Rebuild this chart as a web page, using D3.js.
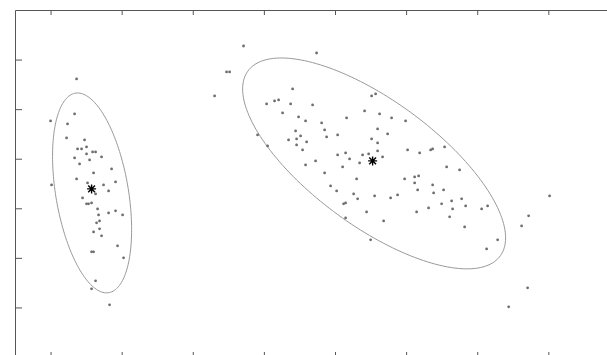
<!DOCTYPE html>
<meta charset="utf-8">
<script src="https://d3js.org/d3.v7.min.js"></script>
<style>
  body { margin: 0; background: #fff; }
</style>
<div id="my_dataviz"></div>
<script>

// cluster 1 (left) points
var c1x = [0.366,0.338,0.000,0.239,0.225,0.478,0.380,0.436,0.506,0.506,0.591,0.633,0.338,0.549,0.717,0.408,
           0.858,0.605,0.366,0.914,0.014,0.520,0.745,0.816,0.633,0.450,0.506,0.534,0.577,0.661,0.914,0.816,
           1.013,0.675,0.689,0.647,0.689,0.605,0.717,0.942,0.577,0.605,1.027,0.633,0.577,0.830];
var c1y = [5.609,4.903,4.762,4.702,4.419,4.379,4.198,4.198,4.238,4.097,4.137,4.137,4.016,3.976,4.036,3.895,
           3.794,3.714,3.593,3.532,3.472,3.512,3.472,3.351,3.290,3.210,3.089,3.089,3.109,2.988,2.948,2.907,
           2.867,2.867,2.746,2.706,2.585,2.524,2.444,2.242,2.121,2.121,2.000,1.536,1.375,1.052];

// cluster 2 (right) points
var c2x = [2.714,3.741,2.475,2.518,2.307,3.404,3.038,3.150,3.207,3.376,3.685,3.263,4.515,4.571,4.416,4.627,
           3.488,3.586,4.163,3.812,3.854,3.446,4.599,2.911,3.516,3.460,3.347,3.882,4.037,3.601,3.460,4.515,
           4.599,3.052,3.544,4.599,4.037,4.149,4.205,4.388,4.473,4.669,3.727,4.346,3.586,4.107,3.854,4.796,
           4.993,4.740,5.021,5.190,5.345,5.373,5.541,5.570,5.752,4.304,3.938,4.023,4.262,4.318,4.557,4.121,
           4.149,4.444,4.149,4.684,4.501,4.979,5.120,5.176,5.120,5.373,5.162,5.387,5.527,4.782,4.880,5.640,
           5.781,5.499,5.837,5.316,5.654,6.062,6.146,5.148,5.612,5.823,7.018,6.723,6.624,6.287,6.132,6.709,6.442];
var c2y = [6.274,6.133,5.750,5.750,5.266,5.407,5.105,5.165,5.185,5.105,5.085,4.923,5.266,5.306,4.964,4.903,
           4.843,4.762,4.823,4.722,4.581,4.560,4.601,4.480,4.460,4.399,4.379,4.440,4.480,4.339,4.278,4.399,
           4.319,4.258,4.177,4.157,4.077,4.117,3.996,4.077,4.097,4.036,3.956,3.915,3.875,3.835,3.714,4.823,
           4.762,4.500,4.177,4.117,4.177,4.198,4.238,3.835,3.774,3.593,3.452,3.351,3.290,3.190,3.250,3.089,
           3.109,2.927,2.806,2.746,2.363,3.593,3.633,3.653,3.512,3.472,3.371,3.310,3.371,3.210,3.270,3.149,
           3.190,3.089,3.048,3.008,2.988,2.988,3.048,2.927,2.827,2.625,3.250,2.847,2.645,2.363,2.181,1.395,1.012];

// cluster centres (asterisks)
var centX = [0.577, 4.529];
var centY = [3.391, 3.956];

// ellipses: centre, half extent in x and y, correlation
var ellCx = [0.584, 4.550];
var ellCy = [3.310, 3.905];
var ellSx = [0.556, 1.849];
var ellSy = [2.016, 2.127];
var ellR  = [-0.367, -0.706];

var xTicks = [0, 1, 2, 3, 4, 5, 6, 7];
var yTicks = [1, 2, 3, 4, 5, 6];

var width = 607, height = 355;

var svg = d3.select("#my_dataviz")
  .append("svg")
    .attr("width", width)
    .attr("height", height);

var x = d3.scaleLinear().domain([-0.5, 8.5]).range([15, 655]);
var y = d3.scaleLinear().domain([0, 7]).range([357, 10]);

// axes box, ticks pointing inwards, no labels
function styleAxis(g) {
  g.selectAll("path, line").attr("stroke", "#555").attr("stroke-width", 1);
  g.selectAll("text").remove();
}
svg.append("g").attr("transform", "translate(0," + y(7) + ")")
  .call(d3.axisTop(x).tickValues(xTicks).tickSize(-5).tickSizeOuter(0)).call(styleAxis);
svg.append("g").attr("transform", "translate(0," + y(0) + ")")
  .call(d3.axisBottom(x).tickValues(xTicks).tickSize(-5).tickSizeOuter(0)).call(styleAxis);
svg.append("g").attr("transform", "translate(" + x(-0.5) + ",0)")
  .call(d3.axisLeft(y).tickValues(yTicks).tickSize(-7).tickSizeOuter(0)).call(styleAxis);
svg.append("g").attr("transform", "translate(" + x(8.5) + ",0)")
  .call(d3.axisRight(y).tickValues(yTicks).tickSize(-7).tickSizeOuter(0)).call(styleAxis);

// ellipses
var line = d3.line().curve(d3.curveLinearClosed);
ellCx.forEach(function(cx, i) {
  var pts = d3.range(0, 2 * Math.PI, Math.PI / 90).map(function(t) {
    var r = ellR[i];
    var ex = cx + ellSx[i] * Math.cos(t);
    var ey = ellCy[i] + ellSy[i] * (r * Math.cos(t) + Math.sqrt(1 - r * r) * Math.sin(t));
    return [x(ex), y(ey)];
  });
  svg.append("path")
    .attr("d", line(pts))
    .attr("fill", "none")
    .attr("stroke", "#9a9a9a")
    .attr("stroke-width", 1);
});

// points
var data = c1x.map(function(v, i) { return {x: v, y: c1y[i]}; })
  .concat(c2x.map(function(v, i) { return {x: v, y: c2y[i]}; }));

svg.selectAll("circle.pt")
  .data(data)
  .enter()
  .append("circle")
    .attr("class", "pt")
    .attr("cx", function(d) { return x(d.x); })
    .attr("cy", function(d) { return y(d.y); })
    .attr("r", 1.4)
    .attr("fill", "#6e6e6e");

// asterisk markers
var s = 4.5, d2 = 3.4;
var star = "M" + (-s) + ",0H" + s + "M0," + (-s) + "V" + s +
           "M" + (-d2) + "," + (-d2) + "L" + d2 + "," + d2 +
           "M" + (-d2) + "," + d2 + "L" + d2 + "," + (-d2);
svg.selectAll("path.cent")
  .data(centX)
  .enter()
  .append("path")
    .attr("class", "cent")
    .attr("transform", function(d, i) { return "translate(" + x(d) + "," + y(centY[i]) + ")"; })
    .attr("d", star)
    .attr("stroke", "#000")
    .attr("stroke-width", 1.4)
    .attr("fill", "none");

</script>
